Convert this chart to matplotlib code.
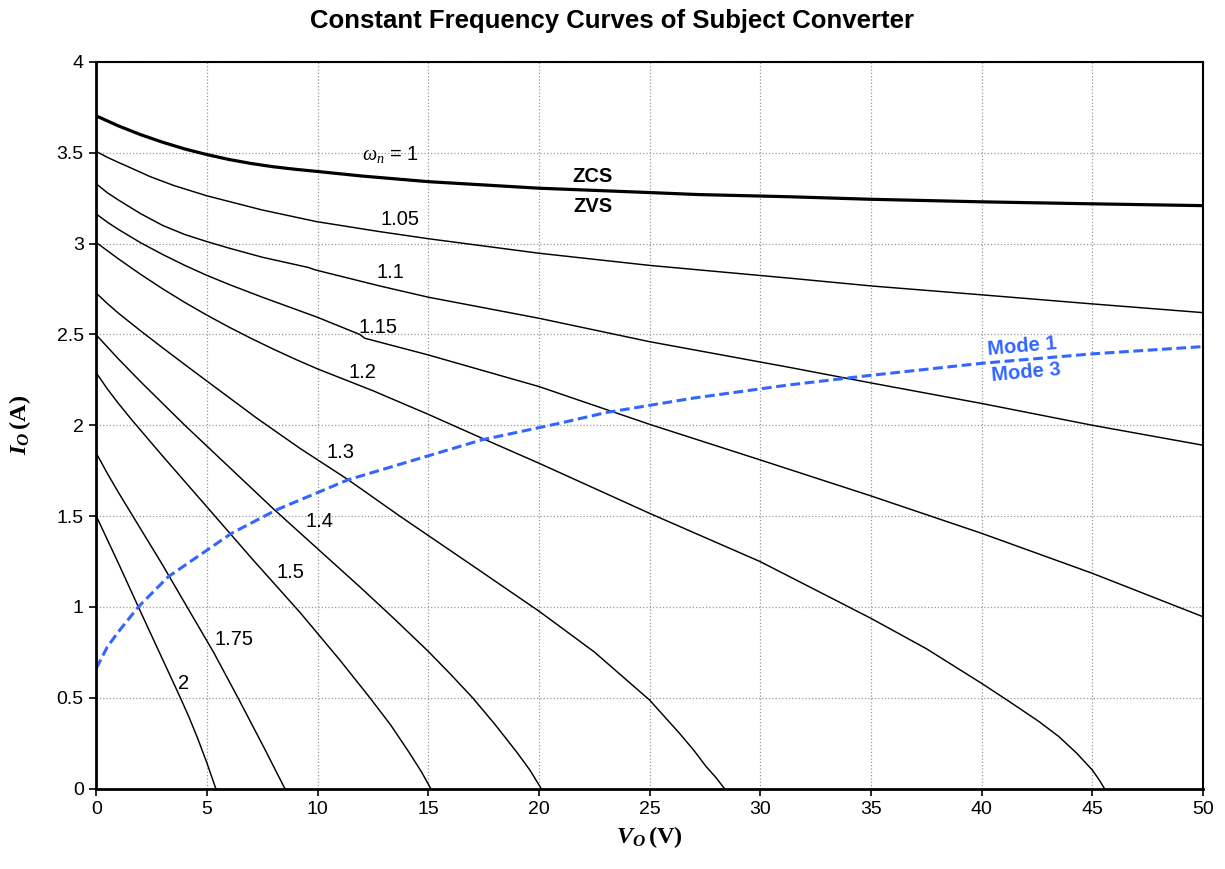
import matplotlib
matplotlib.use("Agg")
import matplotlib.pyplot as plt

plt.rcParams['font.family'] = ['Liberation Sans', 'DejaVu Sans']
plt.rcParams['mathtext.fontset'] = 'custom'
plt.rcParams['mathtext.it'] = 'Liberation Serif:italic'
plt.rcParams['mathtext.rm'] = 'Liberation Serif'
plt.rcParams['mathtext.bf'] = 'Liberation Serif:bold'
try:
    plt.rcParams['mathtext.bfit'] = 'Liberation Serif:bold:italic'
    HAS_BFIT = True
except KeyError:
    HAS_BFIT = False

# ---- data (Vo in V, Io in A) ----
w100_x = [0, 1, 2, 3, 4, 5, 6, 7, 8, 9, 10, 12, 15, 20, 25, 27.2, 31.3, 35, 40, 45, 50]
w100_y = [3.703, 3.648, 3.600, 3.558, 3.521, 3.490, 3.463, 3.441, 3.423, 3.409, 3.397, 3.372, 3.341, 3.305, 3.281, 3.270, 3.258, 3.244, 3.23, 3.219, 3.209]

w105_x = [0, 0.5, 1, 1.5, 2.43, 3.5, 5, 7.5, 9.95, 12.8, 15, 20, 25, 31.3, 35, 40, 45, 50]
w105_y = [3.507, 3.475, 3.447, 3.42, 3.369, 3.32, 3.263, 3.185, 3.121, 3.066, 3.027, 2.947, 2.88, 2.81, 2.767, 2.718, 2.668, 2.62]

w110_x = [0, 0.5, 1, 2, 3, 4, 5, 6, 7.5, 9.6, 9.9, 12.8, 15, 20, 25, 31.3, 35, 40, 45, 50]
w110_y = [3.329, 3.28, 3.24, 3.165, 3.10, 3.05, 3.011, 2.975, 2.925, 2.868, 2.855, 2.767, 2.705, 2.589, 2.46, 2.319, 2.233, 2.12, 2.0, 1.89]

w115_x = [0, 0.5, 1, 2, 3, 4, 5, 6, 7.5, 10, 11.9, 12.13, 15, 20, 25, 30, 35, 40, 45, 50]
w115_y = [3.163, 3.118, 3.078, 3.005, 2.94, 2.88, 2.825, 2.775, 2.705, 2.594, 2.50, 2.479, 2.387, 2.213, 2.005, 1.809, 1.611, 1.405, 1.185, 0.946]

w120_x = [0, 1, 2, 3, 4, 5, 6, 7, 8, 9, 10, 12.5, 15, 17.4, 20, 25, 30, 35, 37.5, 40, 41.3, 42.6, 43.5, 44.3, 45, 45.3, 45.55]
w120_y = [3.006, 2.916, 2.831, 2.751, 2.676, 2.606, 2.54, 2.478, 2.419, 2.363, 2.31, 2.19, 2.06, 1.93, 1.791, 1.515, 1.249, 0.937, 0.77, 0.579, 0.475, 0.368, 0.285, 0.194, 0.102, 0.05, 0.0]

w130_x = [0, 0.5, 1, 2, 3, 4, 5, 7.24, 9.2, 11.38, 13.71, 17.0, 20.03, 22.5, 25, 26.35, 27, 27.56, 28, 28.38]
w130_y = [2.727, 2.67, 2.617, 2.52, 2.426, 2.334, 2.243, 2.04, 1.873, 1.70, 1.50, 1.227, 0.974, 0.752, 0.487, 0.304, 0.21, 0.12, 0.06, 0.0]

w140_x = [0, 1, 2, 3, 4, 6, 8, 10, 12, 13.5, 15, 16, 17, 18, 19, 19.6, 20.1]
w140_y = [2.497, 2.365, 2.24, 2.12, 2.0, 1.77, 1.54, 1.32, 1.10, 0.93, 0.755, 0.63, 0.5, 0.355, 0.2, 0.1, 0.0]

w150_x = [0, 0.5, 1, 1.6, 3, 5.36, 7, 9.2, 11, 12.36, 13.3, 14.16, 14.7, 15.11]
w150_y = [2.288, 2.20, 2.12, 2.03, 1.83, 1.5, 1.27, 0.97, 0.708, 0.5, 0.35, 0.194, 0.09, 0.0]

w175_x = [0, 0.5, 1, 1.6, 3, 4.1, 5.3, 6.4, 7, 7.6, 8.1, 8.52]
w175_y = [1.846, 1.735, 1.63, 1.51, 1.23, 1.0, 0.75, 0.5, 0.36, 0.22, 0.1, 0.0]

w200_x = [0, 0.5, 1, 1.9, 3, 3.78, 4.2, 4.6, 5.0, 5.4]
w200_y = [1.5, 1.37, 1.24, 1.0, 0.71, 0.505, 0.39, 0.27, 0.14, 0.0]

mode_x = [0, 0.5, 1, 1.9, 3.25, 6.11, 8.14, 11.38, 17.4, 20.93, 23.04, 27, 31.3, 35, 40, 45, 50]
mode_y = [0.662, 0.78, 0.863, 1.0, 1.166, 1.405, 1.534, 1.70, 1.919, 2.011, 2.07, 2.15, 2.222, 2.275, 2.341, 2.393, 2.433]

thin_curves = [(w105_x, w105_y), (w110_x, w110_y), (w115_x, w115_y), (w120_x, w120_y),
               (w130_x, w130_y), (w140_x, w140_y), (w150_x, w150_y), (w175_x, w175_y),
               (w200_x, w200_y)]

curve_labels = ["1.05", "1.1", "1.15", "1.2", "1.3", "1.4", "1.5", "1.75", "2"]
label_x = [13.7, 13.3, 12.72, 12.04, 11.05, 10.1, 8.75, 6.2, 3.96]
label_y = [3.13, 2.84, 2.54, 2.29, 1.85, 1.47, 1.19, 0.82, 0.58]

x_ticks = [0, 5, 10, 15, 20, 25, 30, 35, 40, 45, 50]
y_ticks = [0, 0.5, 1, 1.5, 2, 2.5, 3, 3.5, 4]
y_ticklabels = ["0", "0.5", "1", "1.5", "2", "2.5", "3", "3.5", "4"]

blue = '#3366FF'

fig = plt.figure(figsize=(12.25, 8.69), dpi=100)
ax = fig.add_axes([0.0786, 0.0926, 0.9034, 0.8361])

for xs, ys in thin_curves:
    ax.plot(xs, ys, color='black', lw=1.05, solid_joinstyle='round')
ax.plot(w100_x, w100_y, color='black', lw=2.3, solid_joinstyle='round')
ax.plot(mode_x, mode_y, color=blue, lw=2.2, linestyle=(0, (3.2, 1.5)))

for t, lx, ly in zip(curve_labels, label_x, label_y):
    ax.text(lx, ly, t, fontsize=14.5, ha='center', va='center')

ax.text(12.0, 3.49, r'$\omega_n$' + ' = 1', fontsize=14.5, ha='left', va='center')
ax.text(22.42, 3.367, 'ZCS', fontsize=14.5, fontweight='bold', ha='center', va='center')
ax.text(22.42, 3.202, 'ZVS', fontsize=14.5, fontweight='bold', ha='center', va='center')
ax.text(41.84, 2.431, 'Mode 1', fontsize=14.5, fontweight='bold', color=blue,
        ha='center', va='center', rotation=5)
ax.text(42.0, 2.288, 'Mode 3', fontsize=14.5, fontweight='bold', color=blue,
        ha='center', va='center', rotation=5)

ax.set_xlim(0, 50)
ax.set_ylim(0, 4)
ax.set_xticks(x_ticks)
ax.set_yticks(y_ticks)
ax.set_yticklabels(y_ticklabels)
ax.tick_params(axis='both', labelsize=14, direction='out', length=5, width=1.2, pad=4)
ax.grid(True, color='#999999', linestyle=':', linewidth=0.9)
ax.set_axisbelow(True)
for s in ['left', 'bottom']:
    ax.spines[s].set_linewidth(2.0)
for s in ['top', 'right']:
    ax.spines[s].set_linewidth(1.5)

if HAS_BFIT:
    ylab = r'$\mathbfit{I}_{\mathbfit{O}}\,\mathbf{(A)}$'
    xlab = r'$\mathbfit{V}_{\mathbfit{O}}\,\mathbf{(V)}$'
else:
    ylab = r'$\mathbf{I_O\ (A)}$'
    xlab = r'$\mathbf{V_O\ (V)}$'
ax.set_ylabel(ylab, fontsize=17.5, labelpad=17)
ax.set_xlabel(xlab, fontsize=17.5, labelpad=4)

fig.suptitle('Constant Frequency Curves of Subject Converter', fontsize=18.5,
             fontweight='bold', y=0.99)

fig.savefig('out.png', dpi=100)
